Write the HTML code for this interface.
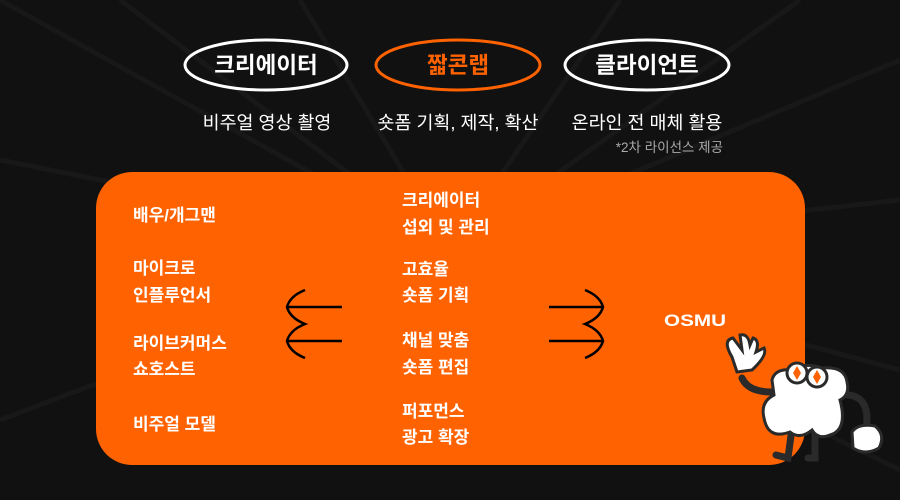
<!DOCTYPE html>
<html><head><meta charset="utf-8"><style>
body{margin:0;background:#111;}
svg{display:block}
text{font-family:"Liberation Sans","Noto Sans CJK KR",sans-serif;}
</style></head><body>
<svg width="900" height="500" viewBox="0 0 900 500" xmlns="http://www.w3.org/2000/svg">
<rect width="900" height="500" fill="#111"/>
<g stroke="#181818" stroke-width="5">
<line x1="450" y1="250" x2="0" y2="0"/><line x1="450" y1="250" x2="120" y2="0"/><line x1="450" y1="250" x2="300" y2="0"/>
<line x1="450" y1="250" x2="620" y2="0"/><line x1="450" y1="250" x2="800" y2="0"/><line x1="450" y1="250" x2="900" y2="60"/>
<line x1="450" y1="250" x2="0" y2="160"/><line x1="450" y1="250" x2="900" y2="200"/><line x1="450" y1="250" x2="900" y2="470"/>
<line x1="450" y1="250" x2="0" y2="420"/><line x1="450" y1="250" x2="900" y2="370"/>
</g>
<g font-weight="bold" font-size="22.5" text-anchor="middle">
<ellipse cx="266" cy="65" rx="81" ry="25" fill="none" stroke="#fff" stroke-width="3"/>
<text x="266" y="73" fill="#fff">크리에이터</text>
<ellipse cx="458" cy="65" rx="82" ry="25" fill="none" stroke="#ff6200" stroke-width="3"/>
<text x="458" y="73" fill="#ff6200">짧콘랩</text>
<ellipse cx="647" cy="65" rx="82" ry="25" fill="none" stroke="#fff" stroke-width="3"/>
<text x="647" y="73" fill="#fff">클라이언트</text>
</g>
<g font-size="18.4" fill="#fff" text-anchor="middle">
<text x="267" y="129">비주얼 영상 촬영</text>
<text x="458" y="129">숏폼 기획, 제작, 확산</text>
<text x="647" y="129">온라인 전 매체 활용</text>
</g>
<text x="723" y="152" font-size="13.5" fill="#aaa" text-anchor="end">*2차 라이선스 제공</text>
<rect x="96" y="172" width="709" height="293" rx="36" fill="#ff6200"/>
<g font-size="17" font-weight="bold" fill="#fff">
<text x="133" y="221">배우/개그맨</text>
<text x="133" y="274">마이크로</text><text x="133" y="301">인플루언서</text>
<text x="133" y="349">라이브커머스</text><text x="133" y="375">쇼호스트</text>
<text x="133" y="430">비주얼 모델</text>
<text x="402" y="206">크리에이터</text><text x="402" y="233">섭외 및 관리</text>
<text x="402" y="275">고효율</text><text x="402" y="301">숏폼 기획</text>
<text x="402" y="346">채널 맞춤</text><text x="402" y="373">숏폼 편집</text>
<text x="402" y="417">퍼포먼스</text><text x="402" y="443">광고 확장</text>
<text x="664" y="326" textLength="62" lengthAdjust="spacingAndGlyphs">OSMU</text>
</g>
<g fill="none" stroke="#000" stroke-width="2.5">
<line x1="287" y1="307" x2="342" y2="307"/><line x1="287" y1="341" x2="342" y2="341"/>
<path d="M305 290 Q290 296 287 307 Q290 318 305 324 Q290 330 287 341 Q290 352 305 358"/>
<line x1="549" y1="307" x2="603" y2="307"/><line x1="549" y1="341" x2="603" y2="341"/>
<path d="M585 290 Q600 296 603 307 Q600 318 585 324 Q600 330 603 341 Q600 352 585 358"/>
</g>
<g stroke="#2a2a2a" stroke-width="7" fill="none" stroke-linecap="round">
<path d="M742 378 Q748 392 772 392"/>
<path d="M792 428 L788 458 L776 455"/><path d="M815 428 L815 458 L808 458"/>
<path d="M840 395 Q872 392 866 430"/>
</g>
<g fill="#fff" stroke="#2a2a2a" stroke-width="3">
<path d="M732 357 Q722 340 733 338 L742 350 L740 335 Q748 333 750 345 L753 338 Q760 340 756 352 L764 348 Q768 355 752 370 L737 372 Z"/>
<path d="M772 380 Q775 368 792 370 Q805 362 822 368 Q845 366 847 382 Q850 395 840 400 Q848 430 830 435 Q818 440 812 430 Q800 440 790 432 Q768 440 764 418 Q760 402 774 395 Z"/>
<path d="M852 432 Q858 423 875 426 Q886 435 879 448 Q865 456 853 448 Z"/>
<circle cx="797" cy="373" r="10"/><circle cx="817" cy="377" r="10"/>
</g>
<g fill="#ff6200">
<path d="M797 366 L801 373 L797 380 L793 373 Z"/><path d="M817 370 L821 377 L817 384 L813 377 Z"/>
</g>
</svg>
</body></html>
